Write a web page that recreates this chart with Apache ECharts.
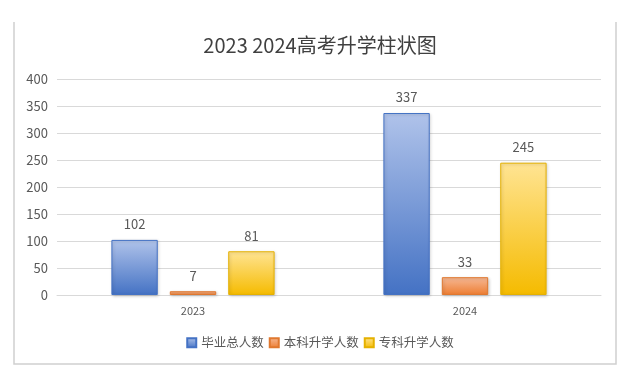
<!DOCTYPE html>
<html><head><meta charset="utf-8">
<script src="https://cdn.jsdelivr.net/npm/echarts@6/dist/echarts.min.js"></script>
<style>html,body{margin:0;padding:0;background:#fff}#c{width:640px;height:381px}</style>
</head><body><div id="c"></div>
<script>
var categories = ['2023', '2024'];
var graduates = [102, 337];
var undergrad = [7, 33];
var college = [81, 245];
var seriesNames = ['毕业总人数', '本科升学人数', '专科升学人数'];
var titleText = '2023 2024高考升学柱状图';

var FONT = '"Noto Sans CJK SC", "Noto Sans", sans-serif';
function grad(top, bottom) {
  return new echarts.graphic.LinearGradient(0, 0, 0, 1, [
    {offset: 0, color: top}, {offset: 1, color: bottom}
  ]);
}
var styles = [
  {top: '#b0c3ea', bottom: '#4472c4', border: '#4472c4'},
  {top: '#f6b996', bottom: '#ed7d31', border: '#e0782f'},
  {top: '#ffe493', bottom: '#f5bb00', border: '#e5b100'}
];
var dataSets = [graduates, undergrad, college];
var chart = echarts.init(document.getElementById('c'), null, {renderer: 'canvas'});
chart.setOption({
  animation: false,
  backgroundColor: '#fff',
  title: {
    text: titleText, left: 'center', top: 30,
    textStyle: {fontFamily: FONT, fontSize: 20, fontWeight: 'normal', color: '#404040'}
  },
  graphic: [{
    type: 'polyline', silent: true,
    shape: {points: [[14, 22], [14, 364], [616, 364], [616, 22]]},
    style: {stroke: '#d0d0d0', lineWidth: 1.5, fill: null}
  }],
  legend: {
    bottom: 27, left: 'center', icon: 'rect', itemWidth: 9, itemHeight: 9, itemGap: 5,
    textStyle: {fontFamily: FONT, fontSize: 12.5, color: '#595959'},
    data: seriesNames
  },
  grid: {left: 57, right: 39, top: 79, bottom: 86, containLabel: false},
  xAxis: {
    type: 'category', data: categories,
    axisLine: {lineStyle: {color: '#d9d9d9'}},
    axisTick: {show: false},
    axisLabel: {fontFamily: FONT, fontSize: 11, color: '#595959', margin: 10}
  },
  yAxis: {
    type: 'value', min: 0, max: 400, interval: 50,
    axisLine: {show: false}, axisTick: {show: false},
    splitLine: {lineStyle: {color: '#d9d9d9'}},
    axisLabel: {fontFamily: FONT, fontSize: 13, color: '#595959', margin: 9}
  },
  series: seriesNames.map(function (n, i) {
    return {
      name: n, type: 'bar', data: dataSets[i],
      barCategoryGap: '40%', barGap: '26%',
      itemStyle: {
        color: grad(styles[i].top, styles[i].bottom),
        borderColor: styles[i].border, borderWidth: 1,
        shadowBlur: 3, shadowColor: 'rgba(0,0,0,0.18)', shadowOffsetX: 1, shadowOffsetY: 1
      },
      label: {show: true, position: 'top', distance: 9, fontFamily: FONT, fontSize: 13, color: '#595959'}
    };
  })
});
</script></body></html>
